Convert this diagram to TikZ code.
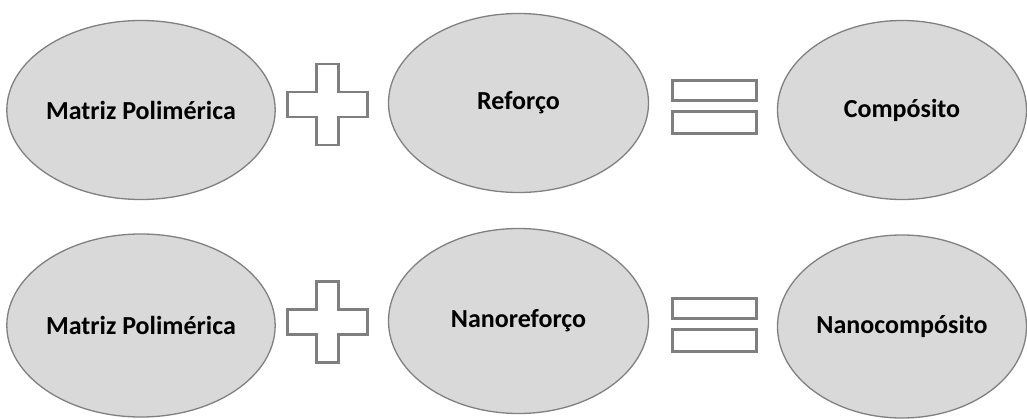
\documentclass[tikz,border=0pt]{standalone}
\usepackage{fontspec}
\setmainfont{Carlito}
\usetikzlibrary{shapes.geometric}
\definecolor{ovalfill}{HTML}{D9D9D9}
\definecolor{ovalline}{HTML}{808080}
\definecolor{signline}{HTML}{7F7F7F}
\tikzset{
  oval/.style={ellipse, draw=ovalline, line width=1.3pt, fill=ovalfill,
    inner sep=0pt, font=\fontsize{26}{30}\selectfont\bfseries},
  sign/.style={draw=signline, fill=white, line width=2.6pt, line join=miter},
}
% plus sign centred at coordinate #1
\newcommand{\plussign}[1]{%
  \draw[sign] ([shift={(-40,-12)}]#1) -- ++(29,0) -- ++(0,-28) -- ++(22,0)
    -- ++(0,28) -- ++(29,0) -- ++(0,25) -- ++(-29,0) -- ++(0,28) -- ++(-22,0)
    -- ++(0,-28) -- ++(-29,0) -- cycle;}
% equals sign centred at coordinate #1
\newcommand{\equalsign}[1]{%
  \draw[sign, line width=3pt] ([shift={(-42,5.5)}]#1) rectangle ++(84,20);
  \draw[sign, line width=3pt] ([shift={(-42,-27.5)}]#1) rectangle ++(84,22);}
\begin{document}
\begin{tikzpicture}[x=1pt,y=1pt]
  \useasboundingbox (0,0) rectangle (1027,418);
  % first row
  \node[oval, minimum width=261, minimum height=179] (mat1) at (141,308) {Matriz Polimérica};
  \node[oval, minimum width=260, minimum height=179] (ref) at (518.5,315) {Reforço};
  \node[oval, minimum width=249, minimum height=179] (comp) at (902,308) {Compósito};
  \coordinate (plus1) at (327.5,313);
  \coordinate (eq1) at (714.5,311.5);
  \plussign{plus1}
  \equalsign{eq1}
  % second row
  \node[oval, minimum width=261, minimum height=183] (mat2) at (141,92.5) {Matriz Polimérica};
  \node[oval, minimum width=260, minimum height=185] (nano) at (518.5,97) {Nanoreforço};
  \node[oval, minimum width=249, minimum height=183] (ncomp) at (902,91.5) {Nanocompósito};
  \coordinate (plus2) at (327.5,95.5);
  \coordinate (eq2) at (714.5,94);
  \plussign{plus2}
  \equalsign{eq2}
\end{tikzpicture}
\end{document}
